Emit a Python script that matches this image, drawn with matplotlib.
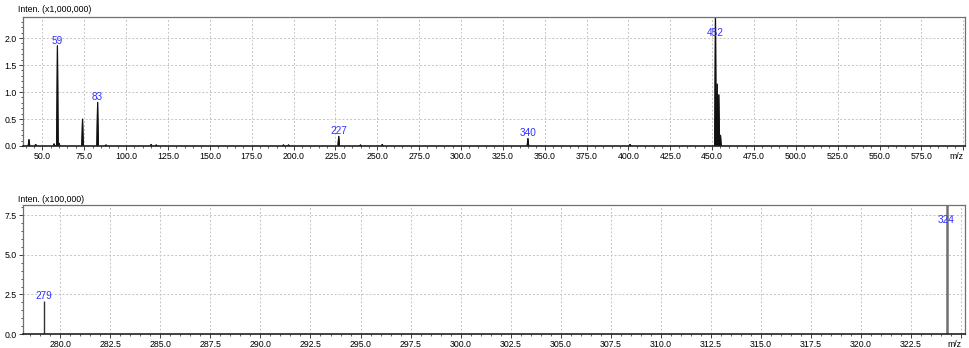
import numpy as np
import matplotlib
matplotlib.use('Agg')
import matplotlib.pyplot as plt
from matplotlib.ticker import MultipleLocator

plt.rcParams['font.family'] = ['Liberation Sans', 'DejaVu Sans']

# top spectrum: m/z and intensity (x1,000,000)
mz_top = [42, 46, 57, 59, 60, 74, 83, 88, 115, 118, 194, 197, 227, 240, 253, 340, 401, 452, 453, 454, 455]
int_top = [0.12, 0.03, 0.04, 1.86, 0.05, 0.50, 0.81, 0.02, 0.03, 0.02, 0.02, 0.02, 0.18, 0.02, 0.03, 0.14, 0.03, 2.45, 1.15, 0.95, 0.20]
labels_top = {59: '59', 83: '83', 227: '227', 340: '340', 452: '452'}

# bottom spectrum: m/z and intensity (x100,000)
mz_bot = [279.17, 324.28]
int_bot = [2.09, 8.4]
labels_bot = {279.17: '279', 324.28: '324'}

grid_kw = dict(color='#c4c4c4', linestyle=(0, (2, 2)), linewidth=0.7)
label_color = '#3030ff'

fig = plt.figure(figsize=(9.7, 3.48), dpi=100)
ax1 = fig.add_axes([0.024, 0.5805, 0.9708, 0.3705])
ax2 = fig.add_axes([0.024, 0.0402, 0.9708, 0.3693])


def style_axes(ax):
    ax.grid(True, which='major', **grid_kw)
    ax.set_axisbelow(True)
    for s in ax.spines.values():
        s.set_color('#707070')
        s.set_linewidth(0.9)
    ax.spines['bottom'].set_color('#202020')
    ax.spines['bottom'].set_linewidth(1.2)
    ax.tick_params(which='major', length=3, width=0.7, color='#404040',
                   labelsize=6.3, pad=1.5)
    ax.tick_params(which='minor', length=1.6, width=0.6, color='#404040')
    ax.get_xticklabels()[-1].set_horizontalalignment('right')


# top panel, profile peaks
hw = 0.45
for m, h in zip(mz_top, int_top):
    ax1.fill([m - hw, m, m + hw], [0, h, 0], color='#101010', lw=0.8)
    ax1.plot([m - hw, m, m + hw], [0, h, 0], color='#101010', lw=0.8)
ax1.set_xlim(38.6, 601)
ax1.set_ylim(0, 2.39)
xt1 = np.arange(50, 601, 25)
ax1.set_xticks(xt1)
ax1.set_xticklabels([f'{v:.1f}' for v in xt1[:-1]] + ['m/z'])
ax1.xaxis.set_minor_locator(MultipleLocator(5))
ax1.set_yticks([0, 0.5, 1.0, 1.5, 2.0])
ax1.set_yticklabels(['0.0', '0.5', '1.0', '1.5', '2.0'])
ax1.yaxis.set_minor_locator(MultipleLocator(0.1))
style_axes(ax1)
ymax1 = ax1.get_ylim()[1]
for m, txt in labels_top.items():
    h = int_top[mz_top.index(m)]
    ax1.text(m, min(h, 0.84 * ymax1), txt, color=label_color, fontsize=7.2,
             ha='center', va='bottom')

# bottom panel, stick peaks
ax2.vlines(mz_bot[0], 0, int_bot[0], color='#303030', lw=1.0)
ax2.vlines(mz_bot[1], 0, int_bot[1], color='#707070', lw=1.8)
ax2.set_xlim(278.15, 325.2)
ax2.set_ylim(0, 8.12)
xt2 = np.arange(280, 325.1, 2.5)
ax2.set_xticks(xt2)
ax2.set_xticklabels([f'{v:.1f}' for v in xt2[:-1]] + ['m/z'])
ax2.xaxis.set_minor_locator(MultipleLocator(0.5))
ax2.set_yticks([0, 2.5, 5.0, 7.5])
ax2.set_yticklabels(['0.0', '2.5', '5.0', '7.5'])
ax2.yaxis.set_minor_locator(MultipleLocator(0.5))
style_axes(ax2)
ymax2 = ax2.get_ylim()[1]
for m, txt in labels_bot.items():
    h = int_bot[mz_bot.index(m)]
    ax2.text(m, min(h, 0.85 * ymax2), txt, color=label_color, fontsize=7.2,
             ha='center', va='bottom')

fig.text(18 / 970, 1 - 10 / 348, 'Inten. (x1,000,000)', fontsize=6.3, va='center', ha='left')
fig.text(18 / 970, 1 - 199 / 348, 'Inten. (x100,000)', fontsize=6.3, va='center', ha='left')

fig.savefig('out.png', dpi=100)
